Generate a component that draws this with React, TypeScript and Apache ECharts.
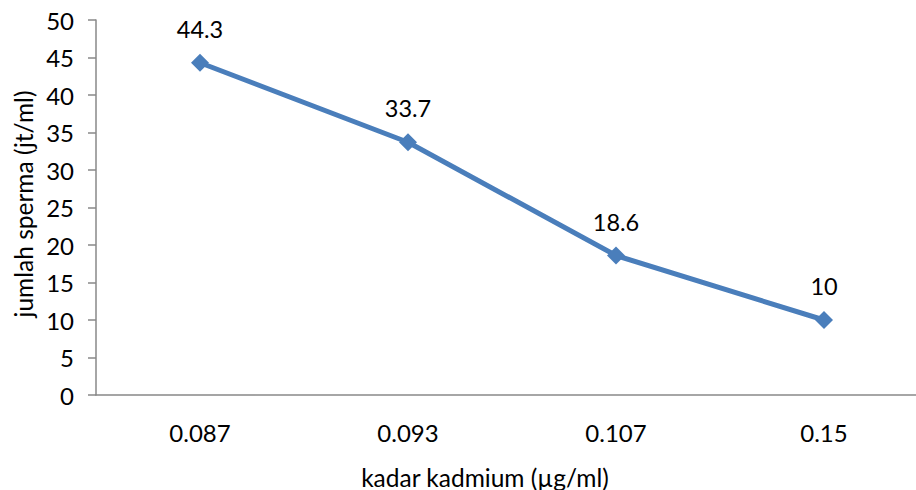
import React, { useEffect, useRef } from "react";
import * as echarts from "echarts";

const categories = ["0.087", "0.093", "0.107", "0.15"];
const values = [44.3, 33.7, 18.6, 10];
const yTitle = "jumlah sperma (jt/ml)";
const xTitle = "kadar kadmium (µg/ml)";

export default function App() {
  const ref = useRef<HTMLDivElement>(null);
  useEffect(() => {
    if (!ref.current) return;
    const chart = echarts.init(ref.current, null, { renderer: "svg" });
    const font = "Lato";
    chart.setOption({
      animation: false,
      backgroundColor: "#ffffff",
      grid: { left: 96, top: 20, width: 832, height: 375, outerBoundsMode: "none", containLabel: false },
      xAxis: {
        type: "category",
        data: categories,
        boundaryGap: true,
        axisLine: { lineStyle: { color: "#888888", width: 1.5 } },
        axisTick: { show: false },
        axisLabel: { color: "#000", fontSize: 24, fontFamily: font, margin: 25 },
      },
      yAxis: {
        type: "value",
        min: 0,
        max: 50,
        interval: 5,
        splitLine: { show: false },
        axisLine: { show: true, lineStyle: { color: "#888888", width: 1.5 } },
        axisTick: { show: true, length: 8, lineStyle: { color: "#888888", width: 1.5 } },
        axisLabel: { color: "#000", fontSize: 24, fontFamily: font, margin: 22 },
      },
      graphic: [
        {
          type: "text",
          x: 485,
          y: 477,
          style: {
            text: xTitle,
            fontSize: 24.5,
            fontFamily: font,
            fill: "#000",
            align: "center",
            verticalAlign: "middle",
          },
        },
        {
          type: "text",
          x: 23,
          y: 204,
          rotation: Math.PI / 2,
          style: {
            text: yTitle,
            fontSize: 24.5,
            fontFamily: font,
            fill: "#000",
            align: "center",
            verticalAlign: "middle",
          },
        },
      ],
      series: [
        {
          type: "line",
          data: values,
          symbol: "diamond",
          symbolSize: 18,
          lineStyle: { color: "#4a7ebb", width: 5 },
          itemStyle: { color: "#4a7ebb" },
          label: {
            show: true,
            position: "top",
            distance: 13,
            color: "#000",
            fontSize: 23.5,
            fontFamily: font,
          },
        },
      ],
    });
    return () => chart.dispose();
  }, []);
  return (
    <div
      ref={ref}
      style={{ position: "absolute", left: 0, top: 0, width: 916, height: 490 }}
    />
  );
}
